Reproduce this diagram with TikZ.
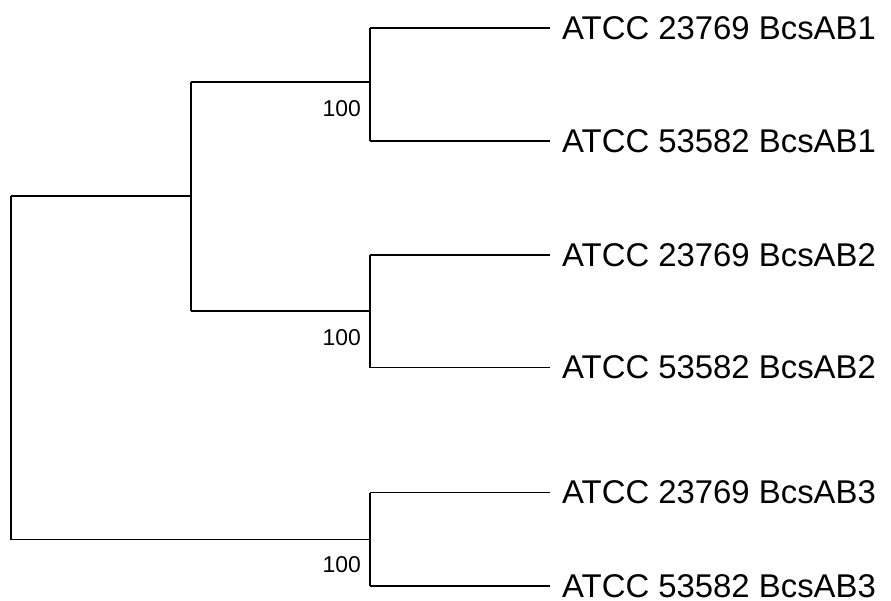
\documentclass[tikz,border=0pt]{standalone}
\usepackage{fontspec}
\setmainfont{Liberation Sans}
\tikzset{
  branch/.style={line width=1.3bp, black},
  leaflab/.style={anchor=west, inner sep=0pt, font=\fontsize{33}{36}\selectfont},
  boot/.style={anchor=east, inner sep=0pt, font=\fontsize{23}{26}\selectfont}
}
\begin{document}
\begin{tikzpicture}[x=1bp,y=-1bp]
\useasboundingbox (0,0) rectangle (891,601);
% internal nodes
\coordinate (rA) at (11,196);
\coordinate (rB) at (11,539.5);
\coordinate (Amid) at (191,196);
\coordinate (Atop) at (191,82);
\coordinate (Abot) at (191,311);
\coordinate (c1) at (370,82);
\coordinate (c1t) at (370,28);
\coordinate (c1b) at (370,141);
\coordinate (c2) at (370,311);
\coordinate (c2t) at (370,255);
\coordinate (c2b) at (370,367.5);
\coordinate (c3) at (370,539.5);
\coordinate (c3t) at (370,492.5);
\coordinate (c3b) at (370,586);
% leaf ends
\coordinate (e1) at (550,28);
\coordinate (e2) at (550,141);
\coordinate (e3) at (550,255);
\coordinate (e4) at (550,367.5);
\coordinate (e5) at (550,492.5);
\coordinate (e6) at (550,586);
% leaf labels
\node[leaflab] (l1) at (562,28) {ATCC 23769 BcsAB1};
\node[leaflab] (l2) at (562,141) {ATCC 53582 BcsAB1};
\node[leaflab] (l3) at (562,255) {ATCC 23769 BcsAB2};
\node[leaflab] (l4) at (562,367.5) {ATCC 53582 BcsAB2};
\node[leaflab] (l5) at (562,492.5) {ATCC 23769 BcsAB3};
\node[leaflab] (l6) at (562,586) {ATCC 53582 BcsAB3};
% bootstrap labels
\node[boot] (b1) at (361,108.5) {100};
\node[boot] (b2) at (361,337.5) {100};
\node[boot] (b3) at (361,565) {100};
% branches
\draw[branch] (rA) -- (rB);
\draw[branch] (rA) -- (Amid);
\draw[branch] (Atop) -- (Abot);
\draw[branch] (rB) -- (c3);
\draw[branch] (Atop) -- (c1);
\draw[branch] (Abot) -- (c2);
\draw[branch] (c1t) -- (c1b);
\draw[branch] (c2t) -- (c2b);
\draw[branch] (c3t) -- (c3b);
\draw[branch] (c1t) -- (e1);
\draw[branch] (c1b) -- (e2);
\draw[branch] (c2t) -- (e3);
\draw[branch] (c2b) -- (e4);
\draw[branch] (c3t) -- (e5);
\draw[branch] (c3b) -- (e6);
\end{tikzpicture}
\end{document}
